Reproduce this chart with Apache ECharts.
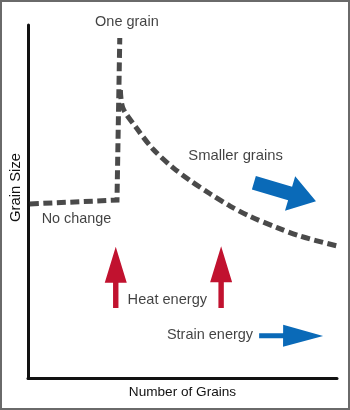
<!DOCTYPE html>
<html>
<head>
<meta charset="utf-8">
<script src="https://cdn.jsdelivr.net/npm/echarts@6/dist/echarts.min.js"></script>
<style>
html,body{margin:0;padding:0;background:#fff;}
#chart{width:350px;height:410px;}
</style>
</head>
<body>
<div id="chart"></div>
<script>
// Schematic curves (x: relative number of grains 0-100, y: relative grain size 0-100)
var noChangeCurve = [[0.6, 49.3], [28.8, 50.4], [29.7, 96.3]];
var smallerGrainsCurve = [
  [29.9, 81.6], [30.7, 76.5], [35.3, 70.6], [40.5, 64.8], [46.9, 59.6],
  [52.4, 56.0], [58.9, 52.2], [65.4, 48.7], [71.8, 45.8], [80.6, 42.6],
  [88.0, 40.2], [100, 37.4]
];
// Annotation texts and their anchor points
var labelTexts = ['One grain', 'No change', 'Smaller grains', 'Heat energy', 'Strain energy'];
var labelPoints = [[32.0, 100.9], [15.7, 45.0], [67.2, 62.9], [45.1, 22.1], [58.9, 12.2]];
// Arrows: [x start, y start, x end, y end]
var arrowNames = ['heat1', 'heat2', 'strain', 'smaller'];
var arrowPoints = [
  [28.4, 19.8, 28.4, 37.2],
  [62.5, 19.8, 62.5, 37.3],
  [74.8, 12.0, 95.5, 11.9],
  [73.1, 55.3, 93.2, 50.1]
];
var axisNames = {x: 'Number of Grains', y: 'Grain Size'};

var FONT = "'Liberation Sans', Arial, Helvetica, sans-serif";
var TEXT_COLOR = '#111';
var labelSizes = {'One grain': 14.5, 'No change': 14.4, 'Smaller grains': 14.8, 'Heat energy': 14.6, 'Strain energy': 14.5};
var arrowStyles = {
  heat1:   {color: '#c1122f', head: 36, half: 11, shaft: 2.7},
  heat2:   {color: '#c1122f', head: 36, half: 11, shaft: 2.7},
  strain:  {color: '#0a6ab8', head: 40, half: 11, shaft: 2.5},
  smaller: {color: '#0a6ab8', head: 27, half: 18, shaft: 7}
};

var chart = echarts.init(document.getElementById('chart'), null, {renderer: 'canvas'});

var lineStyle = {color: '#4a4a4a', width: 5, type: [9, 4.5], cap: 'butt', join: 'miter'};

var option = {
  animation: false,
  backgroundColor: '#fff',
  grid: {left: 28, top: 25, width: 309, height: 353, outerBoundsMode: 'none', containLabel: false},
  xAxis: {
    type: 'value', min: 0, max: 100,
    name: axisNames.x, nameLocation: 'middle', nameGap: 7,
    nameTextStyle: {fontFamily: FONT, fontSize: 13.6, color: TEXT_COLOR, verticalAlign: 'top'},
    axisLine: {show: true, onZero: false, lineStyle: {color: '#111', width: 3}},
    axisTick: {show: false}, axisLabel: {show: false}, splitLine: {show: false}
  },
  yAxis: {
    type: 'value', min: 0, max: 100,
    name: axisNames.y, nameLocation: 'middle', nameGap: 5, nameRotate: 90,
    nameTextStyle: {fontFamily: FONT, fontSize: 14.8, color: TEXT_COLOR, padding: [0, 0, 0, 28]},
    axisLine: {show: true, onZero: false, lineStyle: {color: '#111', width: 3}},
    axisTick: {show: false}, axisLabel: {show: false}, splitLine: {show: false}
  },
  graphic: [{
    type: 'rect', shape: {x: 1, y: 1, width: 348, height: 408},
    style: {fill: 'none', stroke: '#6a6a6a', lineWidth: 2}, z: 100
  }],
  series: [
    {
      type: 'line', data: noChangeCurve, symbol: 'none', lineStyle: lineStyle, clip: false, z: 3
    },
    {
      type: 'line', data: smallerGrainsCurve, symbol: 'none', smooth: 0.3,
      lineStyle: lineStyle, clip: false, z: 3
    },
    {
      type: 'custom', coordinateSystem: 'cartesian2d', clip: false, z: 4,
      encode: {x: [0, 2], y: [1, 3]},
      data: arrowPoints.map(function (p, i) { return {name: arrowNames[i], value: p}; }),
      renderItem: function (params, api) {
        var st = arrowStyles[arrowNames[params.dataIndex]];
        var a = api.coord([api.value(0), api.value(1)]);
        var b = api.coord([api.value(2), api.value(3)]);
        var dx = b[0] - a[0], dy = b[1] - a[1];
        var len = Math.sqrt(dx * dx + dy * dy);
        var ux = dx / len, uy = dy / len, nx = -uy, ny = ux;
        var hb = [b[0] - ux * st.head, b[1] - uy * st.head];
        var pts = [
          [a[0] + nx * st.shaft, a[1] + ny * st.shaft],
          [hb[0] + nx * st.shaft, hb[1] + ny * st.shaft],
          [hb[0] + nx * st.half, hb[1] + ny * st.half],
          b,
          [hb[0] - nx * st.half, hb[1] - ny * st.half],
          [hb[0] - nx * st.shaft, hb[1] - ny * st.shaft],
          [a[0] - nx * st.shaft, a[1] - ny * st.shaft]
        ];
        return {type: 'polygon', shape: {points: pts}, style: {fill: st.color}};
      }
    },
    {
      type: 'scatter', clip: false, symbolSize: 0, z: 5,
      data: labelPoints.map(function (p, i) {
        return {
          name: labelTexts[i], value: p,
          label: {fontSize: labelSizes[labelTexts[i]], color: TEXT_COLOR, fontFamily: FONT}
        };
      }),
      label: {
        show: true, position: 'inside',
        formatter: function (p) { return p.name; },
        fontFamily: FONT, color: TEXT_COLOR, textBorderWidth: 0
      }
    }
  ]
};
chart.setOption(option);
</script>
</body>
</html>
